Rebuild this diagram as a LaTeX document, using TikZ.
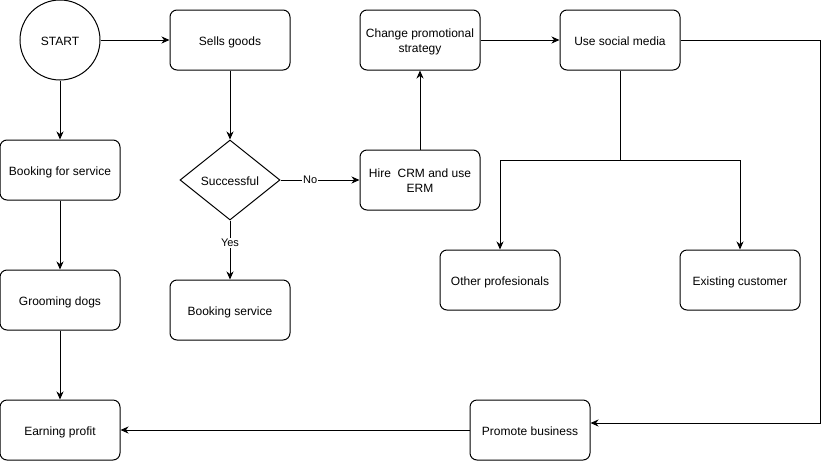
\documentclass[tikz,border=0pt]{standalone}
\usepackage{fontspec}
\setmainfont{Liberation Sans}
\usetikzlibrary{arrows.meta,shapes.geometric,calc}
\begin{document}
\begin{tikzpicture}[x=1pt,y=-1pt,
  line width=1pt,
  box/.style={draw,rounded corners=7pt,minimum width=120pt,minimum height=60pt,inner sep=1pt,align=center,font=\fontsize{12}{15}\selectfont,text height=12pt,text depth=2pt},
  box2/.style={box,text height=27pt,text depth=2.4pt},
  circ/.style={draw,circle,minimum size=80pt,inner sep=0pt,font=\fontsize{12}{15}\selectfont,text height=12pt,text depth=2pt},
  dia/.style={draw,diamond,aspect=1.25,minimum width=100pt,minimum height=80pt,inner sep=0pt,font=\fontsize{12}{15}\selectfont,text height=12pt,text depth=2pt},
  arr/.style={-{Stealth[length=8pt,width=7pt,inset=2.5pt]}},
  lbl/.style={fill=white,inner sep=1pt,font=\fontsize{11}{13}\selectfont}]
\useasboundingbox (0,0) rectangle (829,461);
\node[circ] (start) at (60,40) {START};
\node[box] (sells) at (230,40) {Sells goods};
\node[box2] (change) at (420,40) {Change promotional\\strategy};
\node[box] (social) at (620,40) {Use social media};
\node[box] (bfs) at (60,170) {Booking for service};
\node[dia] (succ) at (230,180) {Successful};
\node[box2] (hire) at (420,180) {Hire\ \ CRM and use\\ERM};
\node[box] (groom) at (60,300) {Grooming dogs};
\node[box] (bs) at (230,310) {Booking service};
\node[box] (other) at (500,280) {Other profesionals};
\node[box] (exist) at (740,280) {Existing customer};
\node[box] (earn) at (60,430) {Earning profit};
\node[box] (promote) at (530,430) {Promote business};
\coordinate (rc) at (820,40);
\coordinate (br) at (620,160);

\draw[arr] (start.east) -- (sells.west);
\draw[arr] (start.south) -- (bfs.north);
\draw[arr] (bfs.south) -- (groom.north);
\draw[arr] (groom.south) -- (earn.north);
\draw[arr] (sells.south) -- (succ.north);
\draw[arr] (succ.east) -- node[lbl,pos=0.375]{No} (hire.west);
\draw[arr] (succ.south) -- node[lbl,pos=0.38]{Yes} (bs.north);
\draw[arr] (hire.north) -- (change.south);
\draw[arr] (change.east) -- (social.west);
\draw[arr] (social.south) -- (br) -| (other.north);
\draw[arr] (br) -| (exist.north);
\draw[arr] (social.east) -- (rc) |- ($(promote.east)+(0,-7)$);
\draw[arr] (promote.west) -- (earn.east);
\end{tikzpicture}
\end{document}
